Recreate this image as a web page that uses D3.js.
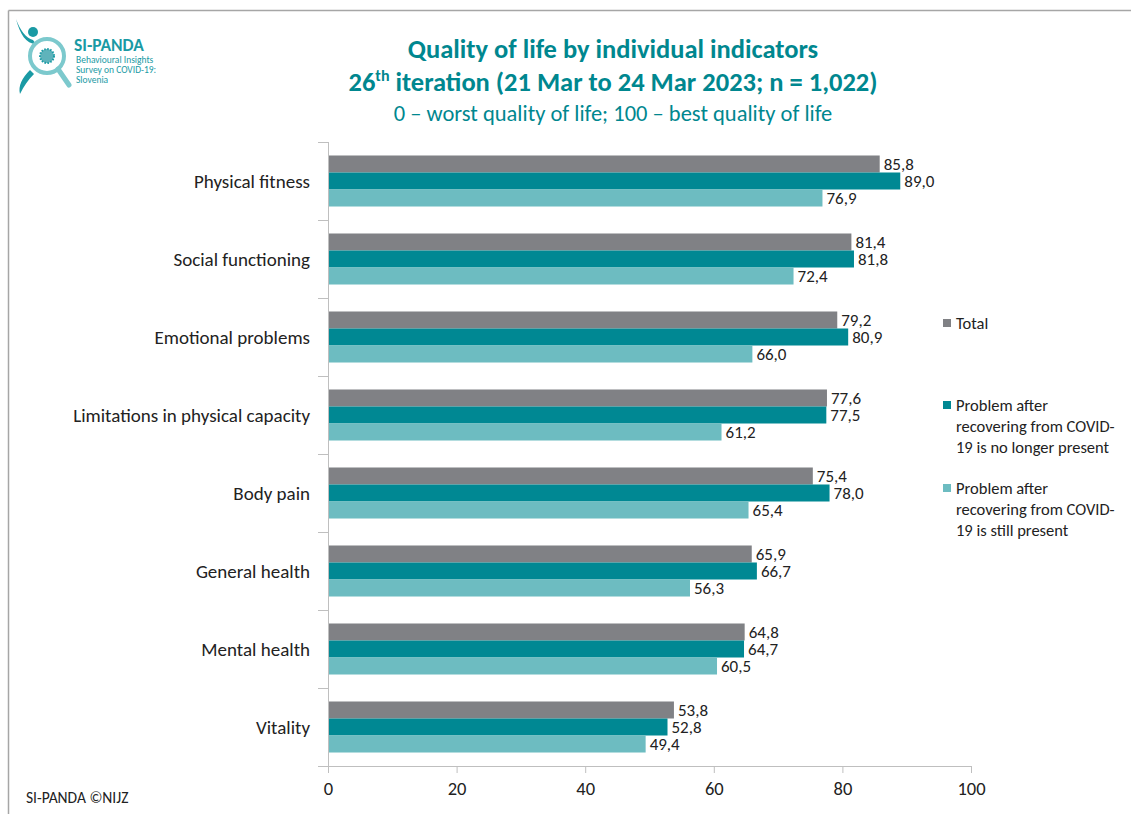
<!DOCTYPE html>
<html>
<head>
<meta charset="utf-8">
<script src="https://cdn.jsdelivr.net/npm/d3@7"></script>
<style>
  body { margin: 0; background: #fff; }
  svg { display: block; font-family: Carlito, Lato, "Open Sans", sans-serif; }
</style>
</head>
<body>
<svg id="chart" width="1131" height="814"></svg>
<script>
const categories = ["Physical fitness", "Social functioning", "Emotional problems", "Limitations in physical capacity", "Body pain", "General health", "Mental health", "Vitality"];
const seriesNames = ["Total", "Problem after recovering from COVID-19 is no longer present", "Problem after recovering from COVID-19 is still present"];
const totalValues = [85.8, 81.4, 79.2, 77.6, 75.4, 65.9, 64.8, 53.8];
const noLongerValues = [89.0, 81.8, 80.9, 77.5, 78.0, 66.7, 64.7, 52.8];
const stillValues = [76.9, 72.4, 66.0, 61.2, 65.4, 56.3, 60.5, 49.4];
const xTicks = [0, 20, 40, 60, 80, 100];
const colors = ["#808185", "#008893", "#6dbcc1"];
const legendLines = [["Total"], ["Problem after", "recovering from COVID-", "19 is no longer present"], ["Problem after", "recovering from COVID-", "19 is still present"]];

const series = [totalValues, noLongerValues, stillValues];
const svg = d3.select("#chart");
const teal = "#00878f";

// frame lines
svg.append("line").attr("x1", 8.5).attr("x2", 1131).attr("y1", 10.5).attr("y2", 10.5).attr("stroke", "#a6a6a6").attr("stroke-width", 1.5);
svg.append("line").attr("x1", 8.5).attr("x2", 8.5).attr("y1", 10.5).attr("y2", 814).attr("stroke", "#a6a6a6").attr("stroke-width", 1.5);

// logo
const logo = svg.append("g");
logo.append("circle").attr("cx", 33).attr("cy", 32).attr("r", 5).attr("fill", "#1a9aa4");
logo.append("path").attr("d", "M16,19 C20,30 26,38 33,40 L36,44 C26,44 20,34 16,19 Z").attr("fill", "#1a9aa4");
logo.append("path").attr("d", "M30,70 C22,78 18,86 20,94 C24,86 28,80 34,74 Z").attr("fill", "#1a9aa4");
logo.append("circle").attr("cx", 47).attr("cy", 56).attr("r", 17).attr("fill", "none").attr("stroke", "#7cc9cd").attr("stroke-width", 4);
logo.append("line").attr("x1", 58).attr("y1", 69).attr("x2", 69).attr("y2", 85).attr("stroke", "#7cc9cd").attr("stroke-width", 5).attr("stroke-linecap", "round");
logo.append("circle").attr("cx", 47).attr("cy", 56).attr("r", 7).attr("fill", "#5fb3bb").attr("stroke", "#1a9aa4").attr("stroke-width", 2).attr("stroke-dasharray", "1.5,1.5");
logo.append("text").attr("x", 74).attr("y", 51).attr("font-size", 17.5).attr("font-weight", "bold").attr("fill", "#1a9aa4").text("SI-PANDA");
[["Behavioural Insights", 63], ["Survey on COVID-19:", 73], ["Slovenia", 83]].forEach(([t, y]) => {
  logo.append("text").attr("x", 76).attr("y", y).attr("font-size", 9.5).attr("fill", "#1a9aa4").text(t);
});

// titles
svg.append("text").attr("x", 613).attr("y", 58).attr("text-anchor", "middle").attr("font-size", 26.5).attr("font-weight", "bold").attr("fill", teal).text("Quality of life by individual indicators");
const t2 = svg.append("text").attr("x", 613).attr("y", 91).attr("text-anchor", "middle").attr("font-size", 26.5).attr("font-weight", "bold").attr("fill", teal);
t2.append("tspan").text("26");
t2.append("tspan").attr("font-size", 16).attr("dy", -10).text("th");
t2.append("tspan").attr("dy", 10).text(" iteration (21 Mar to 24 Mar 2023; n = 1,022)");
svg.append("text").attr("x", 613).attr("y", 121).attr("text-anchor", "middle").attr("font-size", 22.5).attr("fill", teal).text("0 \u2013 worst quality of life; 100 \u2013 best quality of life");

// scales
const x = d3.scaleLinear().domain([0, 100]).range([328, 971]);
const y = d3.scaleBand().domain(categories).range([142, 766]).paddingInner(0.346).paddingOuter(0.173);
const ySub = d3.scaleBand().domain(d3.range(3)).range([0, y.bandwidth()]);

// bars
const groups = svg.append("g").selectAll("g").data(categories).join("g")
  .attr("transform", d => `translate(0,${y(d)})`);
groups.each(function(cat, ci) {
  const g = d3.select(this);
  series.forEach((vals, si) => {
    g.append("rect").attr("x", x(0)).attr("y", ySub(si)).attr("width", x(vals[ci]) - x(0)).attr("height", ySub.bandwidth()).attr("fill", colors[si]);
    g.append("text").attr("x", x(vals[ci]) + 4).attr("y", ySub(si) + ySub.bandwidth() / 2).attr("dy", "0.36em")
      .attr("font-size", 17).attr("fill", "#222").text(d3.format(".1f")(vals[ci]).replace(".", ","));
  });
});

// y axis line with ticks at band boundaries
const axisColor = "#bfbfbf";
svg.append("line").attr("x1", x(0) + 0.5).attr("x2", x(0) + 0.5).attr("y1", 142).attr("y2", 766).attr("stroke", axisColor);
d3.range(categories.length + 1).forEach(i => {
  const yy = 142 + i * y.step();
  svg.append("line").attr("x1", x(0) - 10).attr("x2", x(0)).attr("y1", Math.round(yy) + 0.5).attr("y2", Math.round(yy) + 0.5).attr("stroke", axisColor);
});
// category labels
svg.append("g").selectAll("text").data(categories).join("text")
  .attr("x", 310).attr("y", d => y(d) + y.bandwidth() / 2).attr("dy", "0.36em").attr("text-anchor", "end")
  .attr("font-size", 19).attr("fill", "#222").text(d => d);

// x axis
const xAxis = svg.append("g").attr("transform", "translate(0,766)")
  .call(d3.axisBottom(x).tickValues(xTicks).tickSize(7).tickPadding(9).tickFormat(d3.format("d")));
xAxis.select(".domain").attr("stroke", axisColor).attr("d", `M${x(0)},0.5H${x(100)}`);
xAxis.selectAll(".tick line").attr("stroke", axisColor);
xAxis.selectAll(".tick text").attr("font-size", 18.5).attr("fill", "#222").attr("font-family", "Carlito, Lato, sans-serif");

// legend
const legendY = [323, 405, 488];
legendLines.forEach((lines, i) => {
  svg.append("rect").attr("x", 943).attr("y", legendY[i] - 4).attr("width", 8).attr("height", 8).attr("fill", colors[i]);
  lines.forEach((ln, j) => {
    svg.append("text").attr("x", 956).attr("y", legendY[i] + j * 21).attr("dy", "0.36em").attr("font-size", 16.5).attr("fill", "#222").text(ln);
  });
});

// footer
svg.append("text").attr("x", 26).attr("y", 797).attr("dy", "0.36em").attr("font-size", 15.5).attr("fill", "#222").text("SI-PANDA \u00A9NIJZ");
</script>
</body>
</html>
